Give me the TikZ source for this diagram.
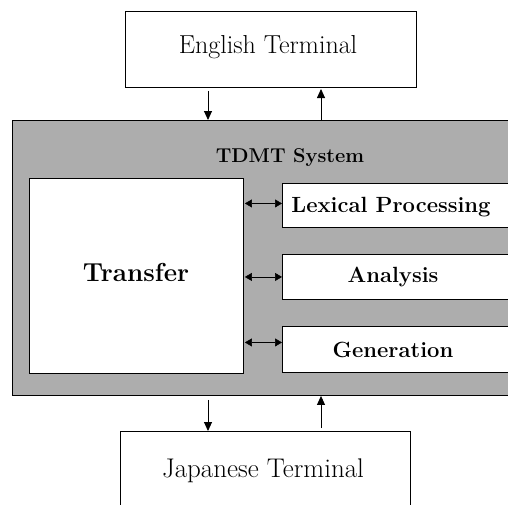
\documentclass[tikz,border=0pt]{standalone}
\usetikzlibrary{arrows.meta,patterns}
\begin{document}
\begin{tikzpicture}[x=1pt,y=-1pt,
  box/.style={draw, line width=0.9pt, fill=white, inner sep=0pt, anchor=north west},
  sysbox/.style={draw, line width=0.9pt, fill=black!32, inner sep=0pt, anchor=north west},
  flow/.style={line width=0.9pt, -{Triangle[length=9pt,width=8pt]}},
  link/.style={line width=0.5pt, {Triangle[length=7pt,width=8pt]}-{Triangle[length=7pt,width=8pt]}},
  boldtext/.style={font=\fontsize{22}{26}\selectfont\bfseries}]
\useasboundingbox (0,0) rectangle (508,504);
\begin{scope}
\clip (0,0) rectangle (508,504);
\node[box, minimum width=291pt, minimum height=76pt] (eng) at (125,11) {};
\node[font=\fontsize{26}{30}\selectfont] (englabel) at (268,47) {English Terminal};
\node[sysbox, minimum width=510pt, minimum height=275pt] (sys) at (12,120) {};
\node[font=\fontsize{20}{24}\selectfont\bfseries] (syslabel) at (290,158) {TDMT System};
\node[box, minimum width=214pt, minimum height=195pt] (tr) at (29,178) {};
\node[font=\fontsize{26}{30}\selectfont\bfseries] (trlabel) at (136,272) {Transfer};
\node[box, minimum width=240pt, minimum height=44pt] (lex) at (282,183) {};
\node[boldtext] (lexlabel) at (391,207) {Lexical Processing};
\node[box, minimum width=240pt, minimum height=45pt] (ana) at (282,254) {};
\node[boldtext] (analabel) at (393,277) {Analysis};
\node[box, minimum width=240pt, minimum height=46pt] (gen) at (282,326) {};
\node[boldtext] (genlabel) at (393,350) {Generation};
\node[box, minimum width=290pt, minimum height=90pt] (jap) at (120,431) {};
\node[font=\fontsize{27}{31}\selectfont] (japlabel) at (263,471) {Japanese Terminal};
\end{scope}
\draw[flow] (eng.south -| 208,0) ++(0,3) coordinate (a1) -- (a1 |- sys.north);
\draw[flow] (sys.north -| 321,0) -- ++(0,-31) coordinate (a2);
\draw[flow] (sys.south -| 208,0) ++(0,4) coordinate (b1) -- (b1 |- jap.north);
\draw[flow] (jap.north -| 321,0) ++(0,-3) coordinate (b2) -- (b2 |- sys.south);
\draw[link] (tr.east |- lex.west) ++(1,-2) coordinate (l1) -- (l1 -| lex.west);
\draw[link] (tr.east |- ana.west) ++(1,0) coordinate (l2) -- (l2 -| ana.west);
\draw[link] (tr.east |- gen.west) ++(1,-7) coordinate (l3) -- (l3 -| gen.west);
\end{tikzpicture}
\end{document}
